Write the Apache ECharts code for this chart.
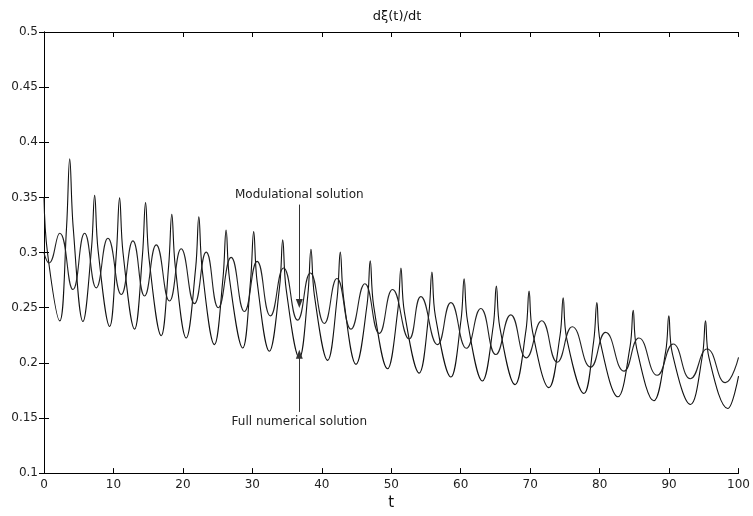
<!DOCTYPE html>
<html>
<head>
<meta charset="utf-8">
<script src="https://cdn.jsdelivr.net/npm/echarts@6/dist/echarts.min.js"></script>
<style>html,body{margin:0;padding:0;background:#fff}#c{width:753px;height:516px}</style>
</head>
<body>
<div id="c"></div>
<script>
// Tick labels
const xTicks = [0,10,20,30,40,50,60,70,80,90,100];
const yTicks = ['0.1','0.15','0.2','0.25','0.3','0.35','0.4','0.45','0.5'];

// Full numerical solution (spiky curve): [t, value]
const fullT = [0,0.5,2.26, 3.25,3.70,4.20,5.61, 6.84,7.29,7.79,9.45, 10.43,10.88,11.38,13.04,
  14.17,14.62,15.12,16.88, 17.95,18.4,18.9,20.47, 21.84,22.29,22.79,24.54, 25.77,26.22,26.72,28.61,
  29.74,30.19,30.69,32.45, 33.92,34.37,34.87,36.77, 37.99,38.44,38.94,40.84, 42.21,42.66,43.16,44.92,
  46.52,46.97,47.47,49.46, 50.94,51.39,51.89,54.02, 55.4,55.85,56.35,58.58, 60.04,60.49,60.99,63.12,
  64.68,65.13,65.63,67.82, 69.39,69.84,70.34,72.7, 74.3,74.75,75.25,77.74, 79.15,79.6,80.1,82.63,
  84.38,84.83,85.33,87.8, 89.51,89.96,90.46,93.08, 94.79,95.24,95.74,98.45, 100];
const fullV = [0.350,0.300,0.238, 0.3233,0.385,0.323,0.2375, 0.304,0.352,0.302,0.233, 0.3006,0.3496,0.2996,0.2306,
  0.2972,0.3454,0.2947,0.2246, 0.2884,0.3346,0.2875,0.2225, 0.2863,0.3325,0.2838,0.2165, 0.2768,0.3205,0.2756,0.2135,
  0.2747,0.319,0.2734,0.2105, 0.2691,0.3115,0.2666,0.2045, 0.2616,0.303,0.2607,0.2022, 0.2592,0.3004,0.2576,0.1986,
  0.2531,0.2926,0.2514,0.1946, 0.2476,0.286,0.246,0.1907, 0.2439,0.2824,0.2424,0.1871, 0.2388,0.2762,0.2373,0.1835,
  0.2334,0.2696,0.2321,0.1802, 0.2294,0.265,0.2283,0.1775, 0.2248,0.259,0.2225,0.1722, 0.22,0.2546,0.2187,0.1692,
  0.2147,0.2477,0.2132,0.1656, 0.2103,0.2426,0.2088,0.1622, 0.2062,0.2381,0.2047,0.1586, 0.188];

// Modulational solution (smooth curve): [t, value]
const modT = [0,0.72,2.26,4.17,5.85,7.53,9.2,11.13,12.8,14.48,16.16,18.07,19.75,21.67,23.35,25.1,26.94,28.86,
  30.68,32.6,34.5,36.52,38.35,40.36,42.18,44.2,46.2,48.27,50.18,52.58,54.26,56.65,58.58,60.82,62.89,65.05,
  67.2,69.45,71.66,73.9,76.06,78.7,80.86,83.5,85.65,88.3,90.58,93.08,95.47,98.1,100];
const modV = [0.2995,0.2905,0.3175,0.2665,0.3175,0.268,0.313,0.262,0.3106,0.2606,0.307,0.256,0.3034,0.2537,0.3004,0.25,0.2956,0.2465,
  0.292,0.2426,0.286,0.2387,0.2815,0.2357,0.2764,0.2306,0.2717,0.2267,0.2665,0.2216,0.26,0.2165,0.2546,0.2132,0.2492,0.2075,
  0.2435,0.2045,0.2381,0.2006,0.2327,0.1961,0.2276,0.1925,0.2225,0.1887,0.2171,0.1856,0.2126,0.182,0.205];

// Annotation anchors
const annT = 36.76;
const modArrow = [0.3435, 0.2537];
const fullArrow = [0.1555, 0.2078];

const FONT = 'DejaVu Sans';
const chart = echarts.init(document.getElementById('c'), null, {renderer:'canvas'});
const zip = (a,b) => a.map((t,i)=>[t,b[i]]);
const axisCommon = {
  type:'value', min:0, max:100, interval:10,
  axisLine:{show:true, lineStyle:{color:'#000', width:1}},
  axisTick:{show:true, inside:true, length:5, lineStyle:{color:'#000'}},
  splitLine:{show:false}
};
const yCommon = {
  type:'value', min:0.1, max:0.5, interval:0.05,
  axisLine:{show:true, lineStyle:{color:'#000', width:1}},
  axisTick:{show:true, inside:true, length:5, lineStyle:{color:'#000'}},
  splitLine:{show:false}
};
chart.setOption({
  animation:false,
  backgroundColor:'#fff',
  title:{text:'dξ(t)/dt', left:392, textAlign:'center', top:5,
    textStyle:{fontFamily:FONT, fontSize:13, fontWeight:'normal', color:'#111'}},
  grid:{left:44, right:13, top:32, bottom:39},
  xAxis:[
    Object.assign({}, axisCommon, {position:'bottom', name:'t', nameLocation:'middle', nameGap:18,
      nameTextStyle:{fontFamily:FONT, fontSize:15, color:'#111'},
      axisLabel:{fontFamily:FONT, fontSize:12, color:'#222', margin:6,
        formatter:(v)=>{const i=xTicks.indexOf(v); return i>=0? String(xTicks[i]):'';}}}),
    Object.assign({}, axisCommon, {position:'top', axisLabel:{show:false}})
  ],
  yAxis:[
    Object.assign({}, yCommon, {position:'left',
      axisLabel:{fontFamily:FONT, fontSize:12, color:'#222', margin:6,
        formatter:(v)=>{const i=Math.round((v-0.1)/0.05); return yTicks[i]||'';}}}),
    Object.assign({}, yCommon, {position:'right', axisLabel:{show:false}})
  ],
  series:[
    {type:'line', name:'Full numerical solution', data:zip(fullT,fullV), showSymbol:false, smooth:0.4,
      lineStyle:{color:'#111', width:1.1}, silent:true,
      markLine:{silent:true, animation:false, symbol:['none','triangle'], symbolSize:[7,9],
        lineStyle:{color:'#333', width:1, type:'solid'},
        label:{show:true, position:'start', distance:4, formatter:'Full numerical solution',
          fontFamily:FONT, fontSize:12, color:'#222'},
        data:[[{coord:[annT, fullArrow[0]]},{coord:[annT, fullArrow[1]]}]]}},
    {type:'line', name:'Modulational solution', data:zip(modT,modV), showSymbol:false, smooth:0.5,
      lineStyle:{color:'#222', width:1.1}, silent:true,
      markLine:{silent:true, animation:false, symbol:['none','triangle'], symbolSize:[7,9],
        lineStyle:{color:'#333', width:1, type:'solid'},
        label:{show:true, position:'start', distance:4, formatter:'Modulational solution',
          fontFamily:FONT, fontSize:12, color:'#222'},
        data:[[{coord:[annT, modArrow[0]]},{coord:[annT, modArrow[1]]}]]}}
  ]
});
</script>
</body>
</html>
